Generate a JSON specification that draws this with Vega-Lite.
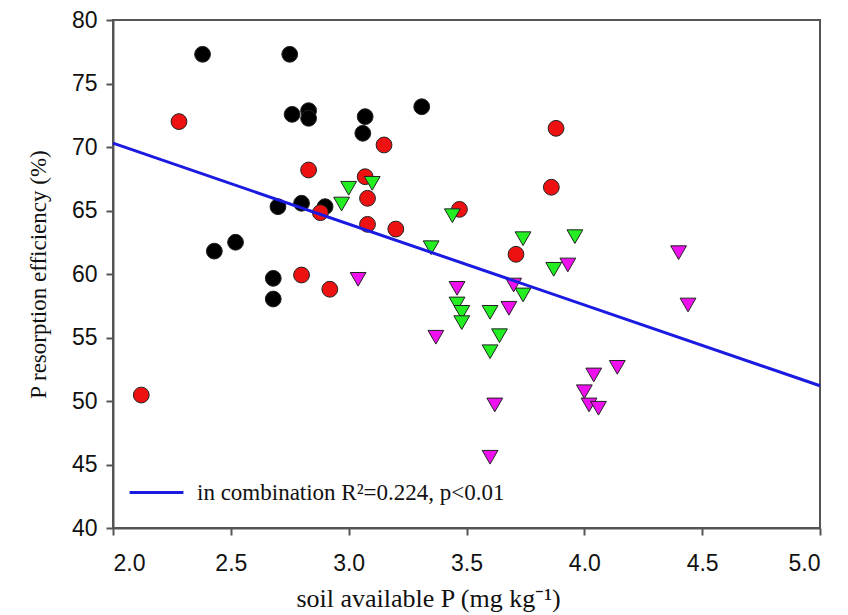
{
  "$schema": "https://vega.github.io/schema/vega-lite/v6.json",
  "width": 707,
  "height": 508,
  "autosize": "none",
  "padding": {"left": 113, "top": 20, "right": 28, "bottom": 87},
  "background": "white",
  "config": {
    "view": {"stroke": "#555555", "strokeWidth": 2},
    "axis": {
      "grid": false,
      "domainColor": "#555555",
      "domainWidth": 2,
      "tickColor": "#555555",
      "tickWidth": 2,
      "tickSize": 7,
      "labelFont": "Liberation Sans",
      "labelFontSize": 23,
      "labelColor": "#111111",
      "titleFont": "Liberation Serif",
      "titleFontWeight": "normal",
      "titleColor": "#111111"
    }
  },
  "layer": [
    {
      "data": {
        "values": [
          {"x": 2.38, "y": 77.3, "g": "A"},
          {"x": 2.75, "y": 77.3, "g": "A"},
          {"x": 2.76, "y": 72.57, "g": "A"},
          {"x": 2.83, "y": 72.86, "g": "A"},
          {"x": 2.83, "y": 72.26, "g": "A"},
          {"x": 3.07, "y": 72.39, "g": "A"},
          {"x": 3.06, "y": 71.08, "g": "A"},
          {"x": 3.31, "y": 73.17, "g": "A"},
          {"x": 2.70, "y": 65.3, "g": "A"},
          {"x": 2.80, "y": 65.57, "g": "A"},
          {"x": 2.90, "y": 65.3, "g": "A"},
          {"x": 2.43, "y": 61.8, "g": "A"},
          {"x": 2.52, "y": 62.5, "g": "A"},
          {"x": 2.68, "y": 59.66, "g": "A"},
          {"x": 2.68, "y": 58.03, "g": "A"},
          {"x": 2.28, "y": 72.0, "g": "B"},
          {"x": 2.83, "y": 68.19, "g": "B"},
          {"x": 2.88, "y": 64.83, "g": "B"},
          {"x": 3.15, "y": 70.16, "g": "B"},
          {"x": 3.07, "y": 67.66, "g": "B"},
          {"x": 3.08, "y": 65.96, "g": "B"},
          {"x": 3.08, "y": 63.91, "g": "B"},
          {"x": 3.20, "y": 63.54, "g": "B"},
          {"x": 3.47, "y": 65.09, "g": "B"},
          {"x": 3.86, "y": 66.83, "g": "B"},
          {"x": 3.88, "y": 71.47, "g": "B"},
          {"x": 3.71, "y": 61.55, "g": "B"},
          {"x": 2.80, "y": 59.92, "g": "B"},
          {"x": 2.92, "y": 58.8, "g": "B"},
          {"x": 2.12, "y": 50.47, "g": "B"},
          {"x": 3.00, "y": 66.75, "g": "C"},
          {"x": 2.97, "y": 65.51, "g": "C"},
          {"x": 3.10, "y": 67.14, "g": "C"},
          {"x": 3.44, "y": 64.59, "g": "C"},
          {"x": 3.35, "y": 62.07, "g": "C"},
          {"x": 3.74, "y": 62.78, "g": "C"},
          {"x": 3.96, "y": 62.94, "g": "C"},
          {"x": 3.87, "y": 60.37, "g": "C"},
          {"x": 3.74, "y": 58.35, "g": "C"},
          {"x": 3.46, "y": 57.64, "g": "C"},
          {"x": 3.48, "y": 56.98, "g": "C"},
          {"x": 3.48, "y": 56.17, "g": "C"},
          {"x": 3.60, "y": 56.98, "g": "C"},
          {"x": 3.64, "y": 55.14, "g": "C"},
          {"x": 3.60, "y": 53.88, "g": "C"},
          {"x": 3.04, "y": 59.58, "g": "D"},
          {"x": 3.46, "y": 58.87, "g": "D"},
          {"x": 3.70, "y": 59.13, "g": "D"},
          {"x": 3.68, "y": 57.3, "g": "D"},
          {"x": 3.93, "y": 60.71, "g": "D"},
          {"x": 4.40, "y": 61.68, "g": "D"},
          {"x": 4.44, "y": 57.56, "g": "D"},
          {"x": 3.37, "y": 55.02, "g": "D"},
          {"x": 3.62, "y": 49.69, "g": "D"},
          {"x": 3.60, "y": 45.57, "g": "D"},
          {"x": 4.04, "y": 52.05, "g": "D"},
          {"x": 4.14, "y": 52.65, "g": "D"},
          {"x": 4.00, "y": 50.73, "g": "D"},
          {"x": 4.02, "y": 49.69, "g": "D"},
          {"x": 4.06, "y": 49.43, "g": "D"}
        ]
      },
      "mark": {"type": "point", "filled": true, "size": 250, "stroke": "#222222", "strokeWidth": 1, "opacity": 1},
      "encoding": {
        "x": {
          "field": "x", "type": "quantitative",
          "scale": {"domain": [2, 5], "nice": false, "zero": false},
          "axis": {"values": [2, 2.5, 3, 3.5, 4, 4.5, 5], "format": ".1f", "labelPadding": 17, "titlePadding": 10, "titleFontSize": 26, "titleX": 315, "title": "soil available P (mg  kg⁻¹)"}
        },
        "y": {
          "field": "y", "type": "quantitative",
          "scale": {"domain": [40, 80], "nice": false, "zero": false},
          "axis": {"values": [40, 45, 50, 55, 60, 65, 70, 75, 80], "labelPadding": 9, "titlePadding": 21, "titleFontSize": 23, "title": "P resorption efficiency (%)"}
        },
        "fill": {
          "field": "g", "type": "nominal",
          "scale": {"domain": ["A", "B", "C", "D"], "range": ["#000000", "#ee1111", "#22ee22", "#ee11ee"]},
          "legend": null
        },
        "shape": {
          "field": "g", "type": "nominal",
          "scale": {"domain": ["A", "B", "C", "D"], "range": ["circle", "circle", "triangle-down", "triangle-down"]},
          "legend": null
        }
      }
    },
    {
      "data": {
        "values": [
          {"x": 2.0, "y": 70.3, "label": "in combination R²=0.224, p<0.01"},
          {"x": 5.0, "y": 51.2, "label": "in combination R²=0.224, p<0.01"}
        ]
      },
      "mark": {"type": "line", "strokeWidth": 3},
      "encoding": {
        "x": {"field": "x", "type": "quantitative"},
        "y": {"field": "y", "type": "quantitative"},
        "color": {
          "field": "label", "type": "nominal",
          "scale": {"range": ["#1a1ae0"]},
          "legend": {
            "title": null,
            "orient": "none",
            "legendX": 15,
            "legendY": 444,
            "symbolType": "stroke",
            "symbolSize": 2900,
            "symbolStrokeWidth": 3,
            "labelFont": "Liberation Serif",
            "labelFontSize": 23,
            "labelColor": "#111111",
            "labelLimit": 600,
            "labelOffset": 12
          }
        }
      }
    }
  ]
}
